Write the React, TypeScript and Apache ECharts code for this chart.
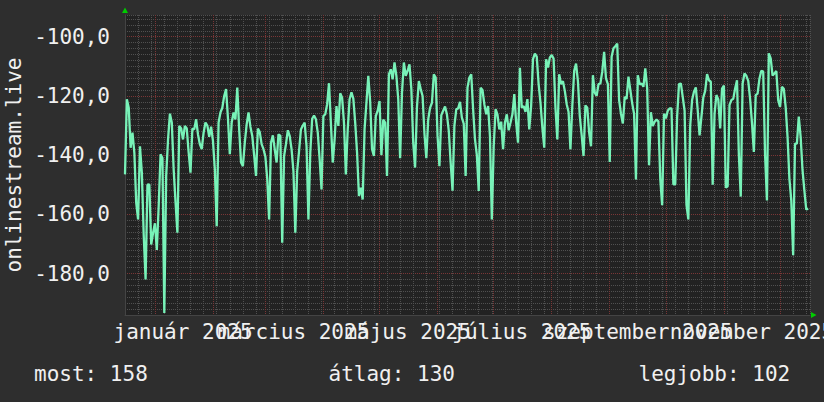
import React, { useEffect, useRef } from "react";
import * as echarts from "echarts";

// Days are counted from 2025-01-01 (day 0). First sample: 2024-12-16 (day -16), one per day.
const FIRST_DAY = -16;
const X_MIN = -16;
const X_MAX = 350;
const Y_MIN = -194;
const Y_MAX = -92.66;

const dailyValues: number[] = [
  -146.5, -121.1, -124, -137.5, -132.4, -139.2, -156.1, -161.7, -137, -145.9,
  -167, -182, -150, -149.9, -170.2, -166.2, -163, -172, -157.2, -139.7,
  -141, -193.3, -147, -134.7, -126, -129, -144.8, -155.8, -166.2, -130.1,
  -131, -134.7, -130.1, -131, -139, -145.9, -131, -131.3, -127.9, -133,
  -136.3, -138, -132.4, -129, -130, -133.8, -130.4, -135.2, -144.8, -164,
  -129, -125.6, -124, -120, -117.7, -127.4, -139.7, -129, -125.6, -127.9,
  -117.2, -131.3, -142.5, -143.7, -135.8, -129.6, -125.6, -130.4, -133.5, -140,
  -147, -131, -132.2, -136.3, -138, -140.5, -148, -161.7, -135.8, -133.3,
  -138, -142.5, -133, -133.4, -169.6, -140.3, -136.3, -131.6, -133.5, -138,
  -145.4, -166.2, -145.4, -138.6, -131.3, -130, -129, -137, -161.7, -139.2,
  -127.7, -126.6, -127.9, -132.4, -141.4, -151.6, -126.8, -126.2, -122.8, -115.7,
  -129, -142.5, -134.7, -123.4, -130.1, -119.1, -120.6, -129, -146.5, -131.3,
  -121.1, -118.8, -120.9, -129, -139.2, -153.8, -151, -155, -131.3, -122.3,
  -113.2, -122, -138, -140.3, -126.8, -125, -121.7, -140, -128, -129,
  -147, -112.7, -111, -114.4, -108.7, -113.2, -121.1, -141, -118.9, -108.7,
  -113.2, -111.5, -109.3, -117.7, -135.8, -144.2, -123.6, -115, -117.7, -120,
  -132.7, -141, -128, -124, -122.3, -112.7, -113.8, -133.5, -143.7, -126.5,
  -125, -123.6, -126.2, -131.8, -142.5, -152, -130, -124.5, -124.2, -122,
  -127.3, -129.4, -147, -117.2, -113.8, -112.7, -124.5, -134.7, -140, -152.1,
  -117.2, -118, -122.8, -126.2, -123.4, -133.5, -161.7, -137, -124.5, -126.2,
  -131.3, -128.7, -138, -129, -126.2, -131.6, -129, -126.2, -119.4, -129,
  -135.8, -110.5, -124, -123.4, -125.4, -121.1, -131.3, -123.4, -107.6, -105.7,
  -106.7, -116, -122.3, -130.7, -137.5, -107.6, -110.4, -107, -106.2, -107.4,
  -124, -134.7, -112.7, -116, -115, -118.3, -122.8, -125.4, -138, -123.4,
  -111.5, -109.1, -115, -126.8, -133.2, -140.3, -123.2, -124, -132.4, -137,
  -113, -118.9, -120, -116, -115.8, -111.8, -105.1, -114.1, -116, -142.3,
  -106.8, -103.9, -103.2, -102.3, -121.4, -126, -129.3, -120.3, -121, -113.5,
  -118, -122.5, -126, -148.2, -113, -116.1, -115.8, -116.9, -110.7, -117.5,
  -143.4, -125.5, -130.2, -128.7, -128, -128.6, -148, -156.9, -126, -127.6,
  -125, -124.2, -124.2, -149.9, -149.9, -127, -116, -115.8, -120.3, -125,
  -156.8, -161.7, -130, -121.4, -118.6, -117.1, -124.8, -133.3, -127, -120.5,
  -118.3, -112.6, -114.7, -115.2, -150, -126, -119.7, -121.2, -131, -117.5,
  -116.5, -151, -150.5, -123, -121.4, -121, -117.5, -114.7, -140, -154,
  -115.8, -112.4, -113.2, -114.9, -121, -129.1, -138.9, -119.7, -119.2, -114.1,
  -111.5, -111.8, -140, -155.3, -105.6, -107.3, -113.1, -112.4, -111.6, -121.4,
  -123.7, -116.9, -117.6, -123.7, -133.8, -148, -155.3, -173.8, -136.1, -136.1,
  -127, -133.8, -145, -152, -158.4, -158,
];

// month starts (day numbers in 2025) -> red grid lines
const monthStartDays = [0, 31, 59, 90, 120, 151, 181, 212, 243, 273, 304, 334];
// label positions (month start + 15 days)
const monthLabelDays = [15, 74, 135, 196, 258, 319];
const monthLabels = [
  "január 2025",
  "március 2025",
  "május 2025",
  "július 2025",
  "szeptember 2025",
  "november 2025",
];
const yTickValues = [-180, -160, -140, -120, -100];
const yTitle = "onlinestream.live";
const legendTexts = ["most: 158", "átlag: 130", "legjobb: 102"];

const FONT = '"DejaVu Sans Mono", monospace';
const TEXT_COLOR = "#f0f0f0";
const MINOR_GRID = "#505050";
const MAJOR_GRID = "#7a3636";

export default function App() {
  const ref = useRef<HTMLDivElement>(null);

  useEffect(() => {
    if (!ref.current) return;
    const chart = echarts.init(ref.current, undefined, { renderer: "svg" });

    const seriesData = dailyValues.map((v, i) => [FIRST_DAY + i, v]);

    const staticGraphics: any[] = [
      {
        type: "text",
        x: 13.5,
        y: 165,
        rotation: Math.PI / 2,
        style: {
          text: yTitle,
          fill: TEXT_COLOR,
          fontFamily: FONT,
          fontSize: 21,
          align: "center",
          verticalAlign: "middle",
        },
      },
      {
        type: "text",
        x: 34,
        y: 373.5,
        style: { text: legendTexts[0], fill: TEXT_COLOR, fontFamily: FONT, fontSize: 21, align: "left", verticalAlign: "middle" },
      },
      {
        type: "text",
        x: 328.5,
        y: 373.5,
        style: { text: legendTexts[1], fill: TEXT_COLOR, fontFamily: FONT, fontSize: 21, align: "left", verticalAlign: "middle" },
      },
      {
        type: "text",
        x: 638.5,
        y: 373.5,
        style: { text: legendTexts[2], fill: TEXT_COLOR, fontFamily: FONT, fontSize: 21, align: "left", verticalAlign: "middle" },
      },
      {
        type: "polygon",
        shape: { points: [[122, 13], [128, 13], [125, 7.5]] },
        style: { fill: "#00cc00" },
      },
      {
        type: "polygon",
        shape: { points: [[811, 312], [811, 318], [816.5, 315]] },
        style: { fill: "#00cc00" },
      },
    ];

    chart.setOption({
      animation: false,
      backgroundColor: "#2e2e2e",
      grid: {
        left: 125,
        top: 15,
        width: 685,
        height: 300,
        show: true,
        backgroundColor: "#222222",
        borderWidth: 0,
      },
      xAxis: [
        {
          type: "value",
          min: X_MIN,
          max: X_MAX,
          interval: 7,
          position: "bottom",
          axisLine: { show: false },
          axisTick: { show: false },
          axisLabel: { show: false },
          splitLine: { show: true, lineStyle: { color: MINOR_GRID, width: 1, type: [1, 1] } },
        },
        {
          type: "value",
          min: X_MIN,
          max: X_MAX,
          position: "bottom",
          axisLine: { show: true, onZero: false, lineStyle: { color: "#444444", width: 1 } },
          axisTick: { show: false, customValues: monthStartDays },
          axisLabel: { show: false },
          splitLine: { show: true, lineStyle: { color: MAJOR_GRID, width: 1, type: [1, 1] } },
        },
      ],
      yAxis: [
        {
          type: "value",
          min: Y_MIN,
          max: Y_MAX,
          interval: 2,
          position: "left",
          axisLine: { show: false },
          axisTick: { show: false },
          axisLabel: { show: false },
          splitLine: { show: true, lineStyle: { color: MINOR_GRID, width: 1, type: [1, 1] } },
        },
        {
          type: "value",
          min: Y_MIN,
          max: Y_MAX,
          position: "left",
          axisLine: { show: true, onZero: false, lineStyle: { color: "#444444", width: 1 } },
          axisTick: { show: false, customValues: yTickValues },
          axisLabel: {
            show: true,
            customValues: yTickValues,
            formatter: (v: number) => v.toFixed(1).replace(".", ","),
            color: TEXT_COLOR,
            fontFamily: FONT,
            fontSize: 21,
            margin: 15,
            showMinLabel: true,
            showMaxLabel: true,
          },
          splitLine: { show: true, lineStyle: { color: MAJOR_GRID, width: 1, type: [1, 1] } },
        },
      ],
      series: [
        {
          type: "line",
          xAxisIndex: 1,
          yAxisIndex: 1,
          data: seriesData,
          showSymbol: false,
          symbol: "none",
          silent: true,
          lineStyle: { color: "#78f2b8", width: 2.3 },
          z: 5,
        },
      ],
      graphic: staticGraphics,
    });

    // Month labels placed through the x axis scale (rrdtool style, overlapping allowed)
    const labelGraphics = monthLabelDays.map((d, i) => {
      const px = chart.convertToPixel({ xAxisIndex: 1 }, d) as number;
      return {
        type: "text",
        x: px,
        y: 331.5,
        style: {
          text: monthLabels[i],
          fill: TEXT_COLOR,
          fontFamily: FONT,
          fontSize: 21,
          align: "center",
          verticalAlign: "middle",
        },
      };
    });

    chart.setOption({ graphic: [...staticGraphics, ...labelGraphics] });

    return () => {
      chart.dispose();
    };
  }, []);

  return (
    <div
      ref={ref}
      style={{ position: "fixed", left: 0, top: 0, width: 824, height: 402 }}
    />
  );
}
